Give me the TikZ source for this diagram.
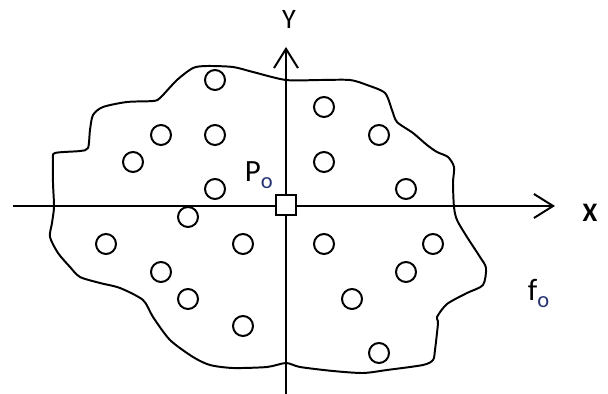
\documentclass[tikz,border=0pt]{standalone}
\usepackage{fontspec}
\setmainfont{Carlito}
\usetikzlibrary{arrows.meta}

\definecolor{subblue}{rgb}{0.15,0.2,0.45}

\begin{document}
\begin{tikzpicture}[x=0.025cm, y=-0.025cm, line width=1.4pt,
  grain/.style={circle, draw, line width=1.4pt, minimum size=0.5cm, inner sep=0pt},
  origin/.style={rectangle, draw, fill=white, line width=1.4pt, minimum size=0.5cm, inner sep=0pt},
  axis/.style={line width=1.4pt, -{Straight Barb[length=0.48cm, width=0.6cm, line width=1.4pt]}}]

\useasboundingbox (0, 0) rectangle (608, 394);

% Region outline (f_o)
\draw[line width=1.4pt] plot[smooth cycle, tension=0.45] coordinates {
  (286,80) (253,72) (233,67) (207,66) (193,68) (177,80) (160,98) (153,101)
  (127,102) (103,107) (93,115) (90,130) (88,148) (80,151) (55,153) (53,160)
  (53,183) (54,207) (52,223) (50,237) (58,253) (70,267) (80,277) (100,283)
  (120,288) (143,300) (153,317) (170,340) (193,357) (210,365) (233,368)
  (267,367) (286,363) (300,367) (333,371) (363,373) (387,370) (423,365)
  (433,360) (435,350) (438,323) (437,317) (447,304) (467,293) (483,285)
  (486,268) (480,257) (467,237) (457,220) (454,207) (453,183) (454,167)
  (448,157) (437,152) (427,145) (413,133) (397,122) (392,110) (385,93)
  (367,85) (350,80) (320,80)};

% Axes
\coordinate (xl) at (13, 206);
\coordinate (xr) at (555, 206);
\coordinate (yb) at (286, 394);
\coordinate (yt) at (286, 47);
\draw[axis] (xl) -- (xr);
\draw[axis] (yb) -- (yt);

\node (ylab) at (289, 19) {\fontsize{20}{20}\selectfont Y};
\node (xlab) at (590, 213) {\fontsize{19}{19}\selectfont\bfseries X};

% Grains
\foreach \gx/\gy [count=\i] in {215/80, 161/135, 215/135, 133/162, 215/189,
  188/217, 106/244, 243/244, 161/272, 188/299, 243/326,
  324/107, 379/135, 324/162, 406/189, 324/244, 433/244,
  406/272, 352/299, 379/353} {
  \node[grain] (g\i) at (\gx, \gy) {};
}

% Origin point
\node[origin] (po) at (286, 205) {};
\node[anchor=base west, inner sep=0pt] (polab) at (244, 182)
  {\fontsize{22}{22}\selectfont P\raisebox{-0.22em}{\fontsize{16}{16}\selectfont\color{subblue}o}};

% Region label
\node[anchor=base west, inner sep=0pt] (flab) at (527, 301)
  {\fontsize{22}{22}\selectfont f\raisebox{-0.22em}{\fontsize{16}{16}\selectfont\color{subblue}o}};

\end{tikzpicture}
\end{document}
